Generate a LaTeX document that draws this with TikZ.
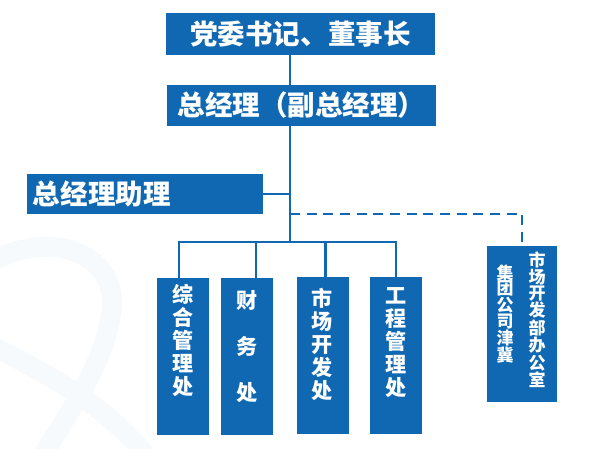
\documentclass[tikz,border=0pt]{standalone}
\usepackage{fontspec}
\usepackage{tikz}
\usetikzlibrary{positioning}
\newfontfamily\cjk{Noto Sans CJK SC}
\definecolor{orgblue}{HTML}{1068B2}
\definecolor{swoosh}{HTML}{F7FAFD}

\begin{document}
\begin{tikzpicture}[x=0.03cm,y=-0.03cm,
 headbox/.style={fill=orgblue,inner sep=0pt,text=white,
             font=\cjk\bfseries\fontsize{23.5}{26}\selectfont},
 colbox/.style={fill=orgblue,inner sep=0pt,minimum width=1.56cm,minimum height=4.71cm},
 coltext/.style={text=white,inner sep=0pt,align=center,
             font=\cjk\bfseries\fontsize{18}{19.6}\selectfont},
 smalltext/.style={text=white,inner sep=0pt,align=center,
             font=\cjk\bfseries\fontsize{14.5}{13.3}\selectfont},
 link/.style={draw=orgblue,line width=2.3pt},
 dashlink/.style={link,dash pattern=on 0.3cm off 0.2cm}]
 \useasboundingbox (0,0) rectangle (599,448);
 % faint background ribbon
 \draw[swoosh,line width=0.6cm] (-10,262) .. controls (60,225) and (125,260) .. (110,320)
   .. controls (100,370) and (70,410) .. (40,460);
 \draw[swoosh,line width=0.6cm] (-10,345) .. controls (60,380) and (110,410) .. (150,460);
 % boxes
 \node[headbox,minimum width=8.07cm,minimum height=1.24cm] (sec) at (300.5,34)
   {党委书记、董事长};
 \node[headbox,minimum width=8.07cm,minimum height=1.23cm] (gm) at (301.5,105.5)
   {总经理（副总经理）};
 \node[headbox,text width=6.72cm,align=left,inner xsep=0.18cm,minimum height=1.2cm]
   (asst) at (145,194) {总经理助理};
 \node[colbox] (adm) at (183,356.5) {};
 \node[colbox] (fin) at (247,356.5) {};
 \node[colbox] (mkt) at (322.5,355.5) {};
 \node[colbox] (eng) at (396,355.5) {};
 \node[colbox,minimum width=2.1cm,minimum height=4.68cm] (ofc) at (522,324) {};
 % box texts
 \node[coltext,below=0.2cm of adm.north] (admt) {综\\合\\管\\理\\处};
 \node[coltext,below=0.38cm of fin.north,font=\cjk\bfseries\fontsize{18}{39}\selectfont]
   (fint) {财\\务\\处};
 \node[coltext,below=0.35cm of mkt.north] (mktt) {市\\场\\开\\发\\处};
 \node[coltext,below=0.32cm of eng.north] (engt) {工\\程\\管\\理\\处};
 \node[smalltext] (ofcr) at (537,320) {市\\场\\开\\发\\部\\办\\公\\室};
 \node[smalltext] (ofcl) at (505,314) {集\\团\\公\\司\\津\\冀};
 % connectors
 \coordinate (bus) at (290,242);
 \coordinate (dashj) at (290,214);
 \draw[link] (sec.south -| bus) -- (gm.north -| bus);
 \draw[link] (gm.south -| bus) -- (bus);
 \draw[link] (asst.east) -- (asst.east -| bus);
 \draw[link] ([xshift=-0.12cm]adm.north) |- (bus) -| (eng.north);
 \draw[link] ([xshift=0.27cm]fin.north) -- ([xshift=0.27cm]fin.north |- bus);
 \draw[link] ([xshift=0.1cm]mkt.north) -- ([xshift=0.1cm]mkt.north |- bus);
 \draw[dashlink] (dashj) -| (ofc.north);
\end{tikzpicture}
\end{document}
